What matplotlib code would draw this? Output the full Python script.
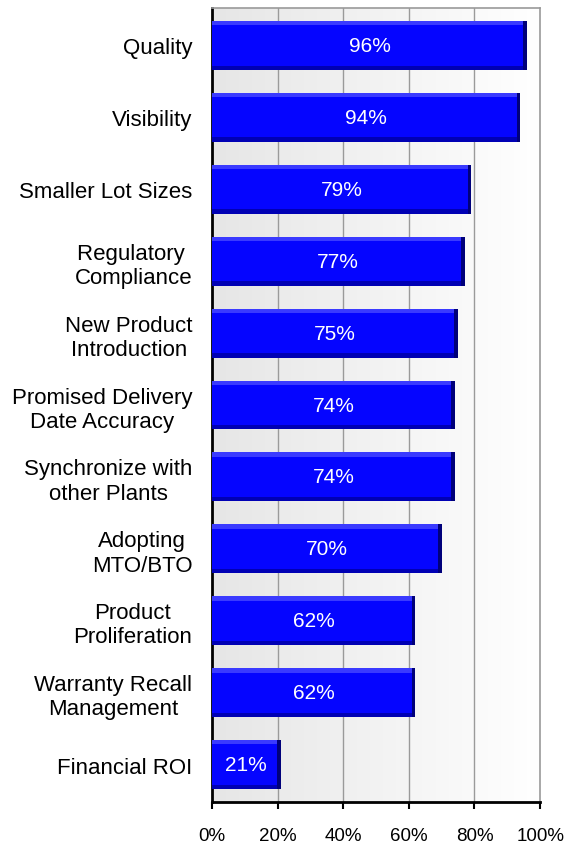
import numpy as np
import matplotlib
matplotlib.use('Agg')
import matplotlib.pyplot as plt
from matplotlib.ticker import FuncFormatter

plt.rcParams['font.family'] = ['Liberation Sans', 'DejaVu Sans']

categories = ['Quality', 'Visibility', 'Smaller Lot Sizes', 'Regulatory \nCompliance',
              'New Product\nIntroduction', 'Promised Delivery\nDate Accuracy',
              'Synchronize with\nother Plants', 'Adopting\nMTO/BTO', 'Product\nProliferation',
              'Warranty Recall\nManagement', 'Financial ROI']
values = [96, 94, 79, 77, 75, 74, 74, 70, 62, 62, 21]
xticks = [0, 20, 40, 60, 80, 100]

fig = plt.figure(figsize=(5.65, 8.45), dpi=100)
ax = fig.add_axes([0.375, 0.0497, 0.581, 0.9396])

n = len(values)
y = np.arange(n)[::-1]
h = 0.68
edge = 0.06

# background gradient grey -> white
grad = np.linspace(0, 1, 256).reshape(1, -1)
ax.imshow(grad, cmap=matplotlib.colors.LinearSegmentedColormap.from_list('bg', ['#e6e6e6', '#ffffff']),
          extent=[0, 1, 0, 1], transform=ax.transAxes, aspect='auto', zorder=0)

for xt in xticks[1:-1]:
    ax.axvline(xt, color='#9a9a9a', lw=1.0, zorder=1)

# bars with a simple bevel: light top edge, dark bottom edge, dark right end
ax.barh(y, values, height=h, color='#0505ff', zorder=3)
ax.barh(y + h / 2 - edge / 2, values, height=edge, color='#3a3aff', zorder=4)
ax.barh(y - h / 2 + edge / 2, values, height=edge, color='#0000b4', zorder=4)
ax.barh(y, [1.1] * n, left=np.array(values) - 1.1, height=h, color='#00007a', zorder=5)

for yi, v in zip(y, values):
    ax.text(v / 2, yi, f'{v}%', color='white', fontsize=15, ha='center', va='center', zorder=6)

ax.set_xlim(0, 100)
ax.set_ylim(-0.52, n - 0.48)
ax.set_xticks(xticks)
ax.xaxis.set_major_formatter(FuncFormatter(lambda v, p: f'{int(v)}%'))
ax.set_yticks(y)
ax.set_yticklabels(categories, multialignment='center')
ax.tick_params(axis='y', length=0, pad=14, labelsize=16)
ax.tick_params(axis='x', direction='out', length=5, width=1.5, pad=13, labelsize=13.5)

ax.spines['left'].set_linewidth(2)
ax.spines['bottom'].set_linewidth(2)
ax.spines['top'].set_color('#9a9a9a')
ax.spines['right'].set_color('#9a9a9a')
ax.spines['top'].set_linewidth(1.2)
ax.spines['right'].set_linewidth(1.2)

fig.savefig('out.png', dpi=100)
